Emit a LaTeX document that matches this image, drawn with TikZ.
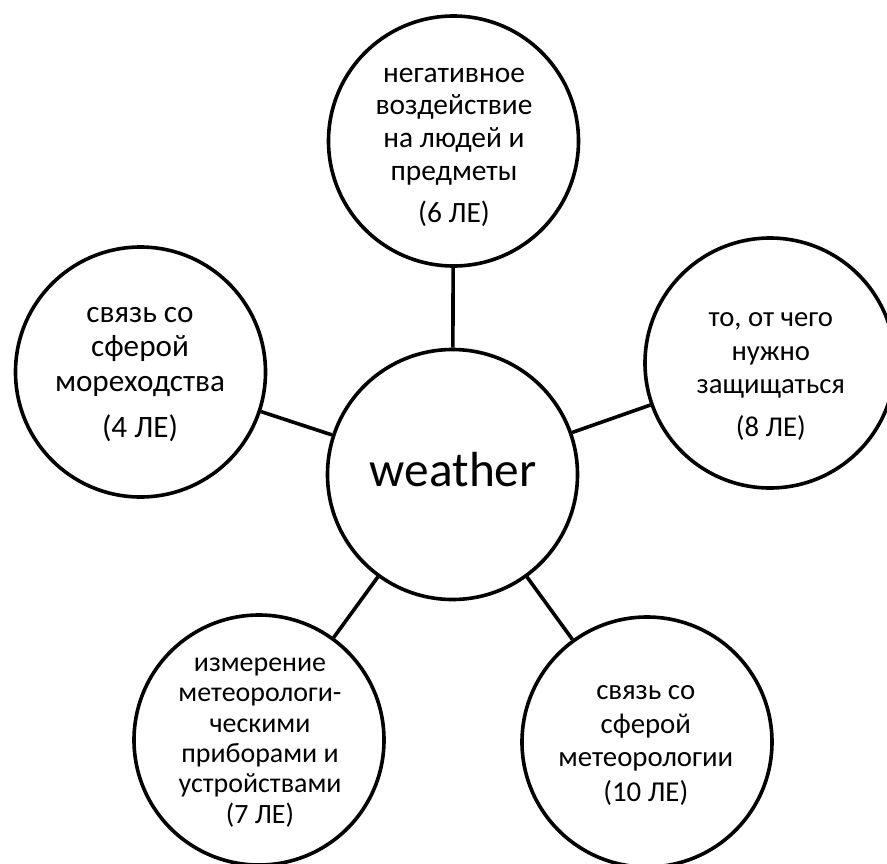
\documentclass[tikz,border=0pt]{standalone}
\usepackage{fontspec}
\setmainfont{Carlito}

% pick a font size at which the sample text #2 is #1 pt wide; #3 is the line pitch
\newlength\probelen
\newcommand\fitfont[3]{%
  \fontsize{10pt}{12pt}\selectfont
  \settowidth\probelen{#2}%
  \pgfmathsetmacro\fitsz{10*#1/\probelen}%
  \fontsize{\fitsz pt}{#3pt}\selectfont}

\begin{document}
\begin{tikzpicture}[x=1pt,y=-1pt,
  bubble/.style={circle, draw=black, line width=3.6pt, fill=white,
    minimum size=250pt, inner sep=0pt},
  words/.style={inner sep=0pt, align=center},
  link/.style={draw=black, line width=3.6pt}]
  \clip (0,0) rectangle (887,863);
  \fill[white] (0,0) rectangle (887,863);

  % circles
  \node[bubble] (hub)      at (452.5,474.5) {};
  \node[bubble] (top)      at (453.5,141)   {};
  \node[bubble] (left)     at (140.5,372)   {};
  \node[bubble] (right)    at (770,363)     {};
  \node[bubble] (botleft)  at (259,740)     {};
  \node[bubble] (botright) at (647,742)     {};

  % spokes from the hub
  \foreach \n in {top,left,right,botleft,botright}
    \path[link] (hub) -- (\n);

  % texts
  \node[words, anchor=base, font=\fitfont{166.7}{weather}{60}]
    (hub-t) at (453.3,486.7) {weather};
  \node[words, font=\fitfont{157}{воздействие}{32.7}] (top-t) at (454,146)
    {\strut негативное\\воздействие\\на людей и\\предметы\\[10pt](6 ЛЕ)\strut};
  \node[words, font=\fitfont{170}{мореходства}{34.8}] (left-t) at (140,373)
    {\strut связь со\\сферой\\мореходства\\[11.5pt](4 ЛЕ)\strut};
  \node[words, font=\fitfont{148.3}{защищаться}{33.3}] (right-t) at (770.8,375)
    {\strut то, от чего\\нужно\\защищаться\\[10pt](8 ЛЕ)\strut};
  \node[words, font=\fitfont{163}{устройствами}{30.3}] (botleft-t) at (260,741.3)
    {\strut измерение\\метеорологи-\\ческими\\приборами и\\устройствами\\(7 ЛЕ)\strut};
  \node[words, font=\fitfont{175}{метеорологии}{33.3}] (botright-t) at (645.8,744.2)
    {\strut связь со\\сферой\\метеорологии\\[2pt](10 ЛЕ)\strut};
\end{tikzpicture}
\end{document}
